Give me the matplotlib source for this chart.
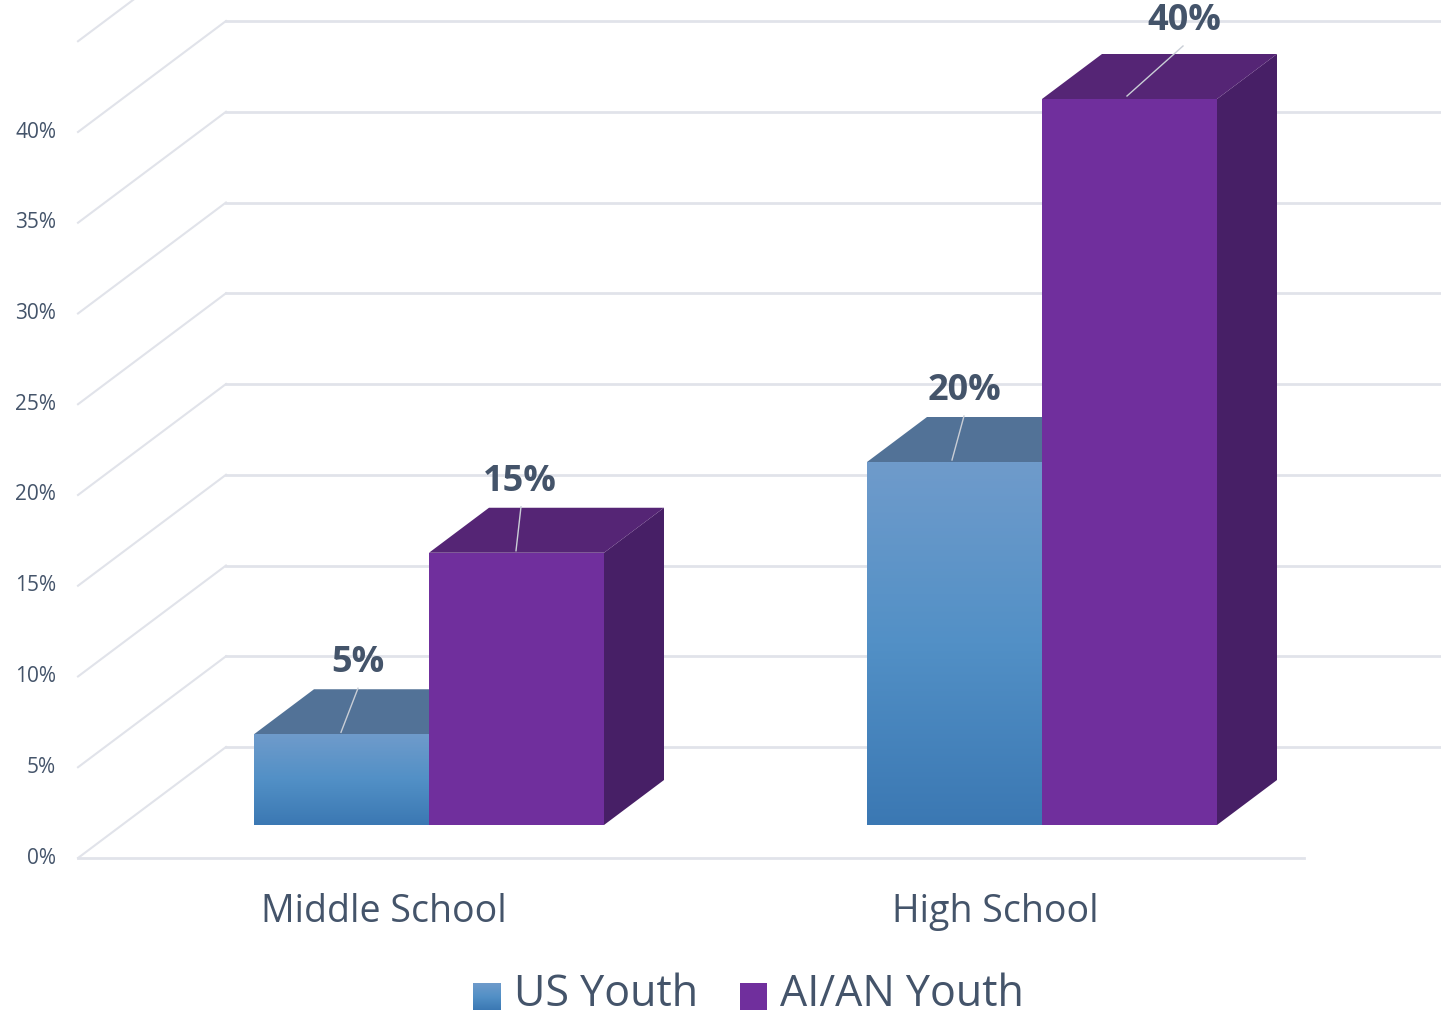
import numpy as np
import matplotlib
matplotlib.use("Agg")
import matplotlib.pyplot as plt
from matplotlib.patches import Polygon
from matplotlib.colors import LinearSegmentedColormap

categories = ["Middle School", "High School"]
series_names = ["US Youth", "AI/AN Youth"]
us_youth = [5, 20]
aian_youth = [15, 40]
tick_values = [0, 5, 10, 15, 20, 25, 30, 35, 40]
tick_labels = ["0%", "5%", "10%", "15%", "20%", "25%", "30%", "35%", "40%"]
wall_values = tick_values + [45]

W, H = 1441, 1017
plt.rcParams['font.family'] = ['Open Sans', 'DejaVu Sans']
fig = plt.figure(figsize=(W / 100, H / 100), dpi=100)
ax = fig.add_axes([0, 0, 1, 1])
ax.set_xlim(0, W)
ax.set_ylim(H, 0)
ax.axis("off")

PX = 18.15          # pixels per percentage point
FLOOR_Y = 858       # front edge of the floor
BACK_Y = 747        # back edge of the floor
WALL_X, FRONT_X, RIGHT_X = 226, 78, 1441
BAR_BASE = 825
DX, DY = 60, -45
BAR_W = 175
GROUP_X = [254, 867]
GRID = "#e1e3ea"
TEXT = "#44546a"
cmap = LinearSegmentedColormap.from_list("b", ["#6f9bcb", "#5290c6", "#3b78b3"])
grad = np.linspace(0, 1, 256).reshape(-1, 1)

# walls
for v in wall_values:
    yb = BACK_Y - v * PX
    ax.plot([WALL_X, RIGHT_X], [yb, yb], color=GRID, lw=2, zorder=1)
    ax.plot([WALL_X, FRONT_X], [yb, yb + FLOOR_Y - BACK_Y], color=GRID, lw=1.5, zorder=1)
ax.plot([FRONT_X, 1304], [FLOOR_Y, FLOOR_Y], color=GRID, lw=2, zorder=1)

for v, lab in zip(tick_values, tick_labels):
    ax.text(56, FLOOR_Y - v * PX, lab, ha="right", va="center", fontsize=15, color=TEXT)

def box(x, val, front, top, side, label, lead_end, label_x, z):
    t = BAR_BASE - val * PX
    b = BAR_BASE
    if side:
        ax.add_patch(Polygon([(x + BAR_W, t), (x + BAR_W + DX, t + DY),
                              (x + BAR_W + DX, b + DY), (x + BAR_W, b)],
                             fc=side, ec="none", zorder=z))
    ax.add_patch(Polygon([(x, t), (x + DX, t + DY), (x + BAR_W + DX, t + DY), (x + BAR_W, t)],
                         fc=top, ec="none", zorder=z))
    if front is None:
        ax.imshow(grad, extent=[x, x + BAR_W, b, t], cmap=cmap, aspect="auto", zorder=z + 0.5,
                  interpolation="bilinear")
    else:
        ax.add_patch(Polygon([(x, t), (x + BAR_W, t), (x + BAR_W, b), (x, b)],
                             fc=front, ec="none", zorder=z + 0.5))
    ax.plot([lead_end[0], lead_end[1]], [t - 3 if val > 30 else t + lead_end[3], t + DY - 1 + lead_end[2]],
            color="#c9ced6", lw=1, zorder=z + 1)
    ax.text(label_x, t + DY - 26 + lead_end[2], label, ha="center", va="center", fontsize=26,
            fontweight="bold", color=TEXT, zorder=6)

leads_us = [(341, 358, 0, -2), (952, 964, 0, -2)]
leads_ai = [(516, 521, 0, -2), (1127, 1183, -7, 0)]
lx_us = [358, 964]
lx_ai = [520, 1184]
for i, gx in enumerate(GROUP_X):
    box(gx, us_youth[i], None, "#527297", None, f"{us_youth[i]}%", leads_us[i], lx_us[i], 3)
    box(gx + BAR_W, aian_youth[i], "#702f9d", "#552575", "#471f66", f"{aian_youth[i]}%",
        leads_ai[i], lx_ai[i], 4)

for label, x in zip(categories, [384, 995]):
    ax.text(x, 912, label, ha="center", va="center", fontsize=27, color=TEXT)

# legend
ax.imshow(grad, extent=[473, 501, 1010, 983], cmap=cmap, aspect="auto", zorder=5)
ax.text(514, 995, series_names[0], ha="left", va="center", fontsize=31, color=TEXT)
ax.add_patch(Polygon([(740, 983), (767, 983), (767, 1010), (740, 1010)], fc="#702f9d", ec="none", zorder=5))
ax.text(780, 995, series_names[1], ha="left", va="center", fontsize=31, color=TEXT)

ax.set_xlim(0, W)
ax.set_ylim(H, 0)
fig.savefig("out.png", dpi=100)
